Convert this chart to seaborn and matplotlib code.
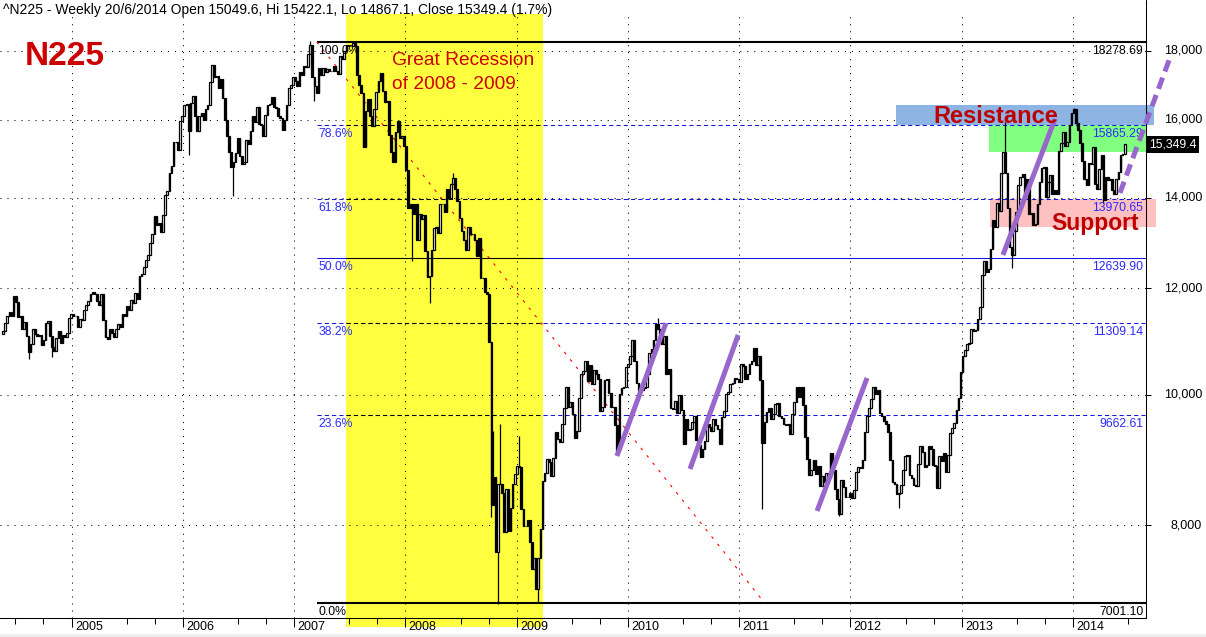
import numpy as np
import pandas as pd
import matplotlib
matplotlib.use("Agg")
import matplotlib.pyplot as plt
import matplotlib.dates as mdates
import matplotlib.ticker as mticker
from matplotlib.patches import Rectangle
from matplotlib.lines import Line2D
import seaborn as sns

# ---------------- data (weekly closes) ----------------
last_date = "2014-06-20"
first_open = 11100

close_2004 = [11150, 11300, 11450, 11530, 11450, 11850, 11720, 11420, 11440, 11200, 11320,
              11060, 10760, 10900, 11200, 11100, 11060, 11080, 10880, 10990, 11300, 11350,
              11050, 10860, 10770, 11020, 11150, 10920, 11080, 11030, 11120, 11400, 11490]
close_2005 = [11433, 11438, 11238, 11387, 11360, 11553, 11660, 11740, 11873, 11923, 11879, 11739,
              11668, 11874, 11370, 11045, 11008, 11192, 11120, 11037, 11200, 11280, 11230, 11480,
              11440, 11630, 11570, 11760, 11690, 11900, 11780, 12260, 12290, 12450, 12600, 12690,
              12960, 13160, 13570, 13360, 13420, 13200, 13600, 14070, 14160, 14620, 14780, 15400,
              15400, 15200, 15960, 16111]
close_2006 = [16400, 16450, 15700, 16460, 16680, 16100, 15710, 16100, 16200, 16000, 16300, 16400,
              17060, 17560, 17230, 17250, 16900, 17150, 16600, 16000, 15560, 15150, 14750, 14880,
              15130, 15500, 15050, 14850, 14900, 15450, 15350, 15700, 16100, 15940, 16350, 15900,
              15850, 15560, 16130, 16400, 16450, 16650, 16350, 16330, 16100, 16050, 15730, 16000,
              16420, 16900, 16990, 17225]
close_2007 = [17090, 16940, 17370, 17290, 17550, 17500, 17900, 18190, 17220, 16940, 16740, 17480,
              17290, 17490, 17360, 17450, 17400, 17390, 17550, 17400, 17320, 17850, 17770, 18000,
              18190, 18140, 18140, 18240, 18160, 17280, 16980, 16760, 15270, 16250, 16570, 16120,
              15830, 16310, 16790, 17100, 17330, 16810, 16500, 16520, 15580, 15150, 14890, 15680,
              15960, 15510, 15570, 15300]
close_2008 = [14690, 13760, 13860, 13630, 13860, 13020, 13620, 13500, 13600, 12780, 12240, 12260,
              12820, 13290, 13320, 13180, 13860, 13850, 13660, 14220, 14010, 14340, 14490, 14210,
              13940, 13540, 13240, 13040, 12800, 13330, 13170, 13170, 13020, 12670, 13070, 12210,
              12210, 11920, 11890, 10940, 8280, 8690, 7650, 8580, 8580, 8460, 7910, 8510,
              7920, 8240, 8590, 8740]
close_2009 = [8860, 8840, 8230, 7990, 7990, 8080, 7780, 7420, 7570, 7170, 7570, 7950,
              8630, 8750, 8960, 8910, 8710, 8980, 9380, 9270, 9220, 9520, 9770, 10140,
              9790, 9880, 9680, 9290, 9400, 9940, 10360, 10410, 10600, 10240, 10530, 10190,
              10440, 10370, 10270, 9730, 9800, 10260, 10280, 10030, 9790, 9800, 9500, 9080,
              10020, 10110, 10140, 10490]
close_2010 = [10550, 10680, 10980, 10590, 10200, 10060, 10090, 10120, 10130, 10370, 10750, 10820,
              10990, 11290, 11200, 11100, 10910, 11060, 10360, 10460, 9780, 9760, 9900, 9700,
              10000, 9740, 9200, 9590, 9410, 9430, 9540, 9640, 9250, 9180, 8990, 9110,
              9240, 9510, 9470, 9400, 9590, 9500, 9430, 9200, 9630, 9720, 10020, 10040,
              10180, 10210, 10300, 10280, 10230]
close_2011 = [10540, 10500, 10270, 10360, 10540, 10600, 10840, 10530, 10690, 10250, 9210, 9540,
              9710, 9770, 9590, 9680, 9850, 9860, 9650, 9610, 9520, 9490, 9510, 9350,
              9680, 9870, 10140, 9970, 10130, 9830, 9300, 8960, 8720, 8800, 8950, 8740,
              8860, 8560, 8700, 8610, 8750, 8680, 9050, 8800, 8510, 8370, 8160, 8640,
              8540, 8400, 8400, 8450]
close_2012 = [8390, 8500, 8770, 8840, 8830, 8950, 9380, 9650, 9780, 9930, 10130, 10010,
              10080, 9690, 9640, 9560, 9520, 9380, 8950, 8610, 8580, 8440, 8460, 8570,
              8800, 9010, 9020, 8720, 8670, 8570, 8560, 8890, 9160, 9070, 8840, 8870,
              9160, 9110, 8870, 8860, 8530, 9000, 8930, 9050, 8760, 9020, 9370, 9450,
              9530, 9740, 9940, 10400]
close_2013 = [10690, 10800, 10910, 10930, 11190, 11150, 11170, 11390, 11610, 12280, 12560, 12340,
              12400, 12830, 13490, 13320, 13880, 13690, 14610, 15140, 14610, 13770, 12880, 12690,
              13230, 13680, 14310, 14510, 14590, 14130, 14470, 13620, 13650, 13360, 13390, 13860,
              14400, 14740, 14760, 14020, 14400, 14560, 14090, 14200, 14090, 15170, 15380, 15660,
              15300, 15400, 15870, 16180]
close_2014 = [16290, 15910, 15730, 15390, 14910, 14460, 14310, 14870, 14840, 15270, 14330, 14220,
              14700, 15060, 13960, 14520, 14430, 14460, 14200, 14100, 14460, 14630, 15080, 15100,
              15349.4]

# notable intraweek extremes (long wicks visible in the chart)
low_spikes = {"2004-08-13": 10640, "2004-10-29": 10660, "2006-01-20": 15060, "2006-06-16": 14050,
              "2007-03-09": 16530, "2008-01-25": 12570, "2008-03-21": 11690, "2008-10-10": 8115,
              "2008-10-31": 6995, "2009-03-13": 7021, "2011-03-18": 8227, "2011-11-25": 8135,
              "2012-06-08": 8238, "2013-06-14": 12415, "2014-04-11": 13885}
high_spikes = {"2006-04-07": 17563, "2007-02-23": 18300, "2007-07-13": 18295, "2008-06-06": 14600,
               "2008-10-17": 9400, "2008-11-07": 9520, "2009-01-09": 9325, "2010-04-09": 11400,
               "2013-05-24": 15942, "2014-01-03": 16320}

fib_levels = [18278.69, 15865.29, 13970.65, 12639.90, 11309.14, 9662.61, 7001.10]
fib_pct = ["100.0%", "78.6%", "61.8%", "50.0%", "38.2%", "23.6%", "0.0%"]
fib_value_labels = ["18278.69", "15865.29", "13970.65", "12639.90", "11309.14", "9662.61", "7001.10"]
fib_kind = ["thick", "dashed", "dashed", "solid", "dashed", "dashed", "thick"]
fib_start = "2007-03-17"

y_ticks = [8000, 10000, 12000, 14000, 16000, 18000]
year_labels = [str(y) for y in range(2005, 2015)]

recession_span = ("2007-06-22", "2009-03-27")
resistance_box = ("2012-05-30", "2014-09-24", 15865.29, 16413)
green_box = ("2013-03-31", None, 15145, 15865.29)
support_box = ("2013-04-03", "2014-09-30", 13323, 13970.65)
fan_line = (("2007-03-17", 18278.69), ("2011-03-27", 7001.10))
purple_segments = [
    (("2009-11-26", 9007), ("2010-05-06", 11305)),
    (("2010-07-24", 8809), ("2010-12-29", 11077)),
    (("2011-09-14", 8199), ("2012-02-25", 10292)),
    (("2013-05-16", 12701), ("2013-11-03", 16025)),
]
purple_dashed = (("2014-06-04", 14121), ("2014-11-15", 17786))

header = "^N225 - Weekly 20/6/2014 Open 15049.6, Hi 15422.1, Lo 14867.1, Close 15349.4 (1.7%)"
last_price = 15349.4
last_price_label = "15,349.4"

# ---------------- styling ----------------
sns.set_style("white")
plt.rcParams["font.family"] = ["Liberation Sans", "DejaVu Sans"]

W, H = 1206, 637
fig = plt.figure(figsize=(W / 100, H / 100), dpi=100)
ax_right_px, ax_top_px, ax_bot_px = 1146, 14, 617.5
ax_h_px = ax_bot_px - ax_top_px
ax = fig.add_axes([0, 1 - ax_bot_px / H, ax_right_px / W, ax_h_px / H])
ax.set_facecolor("white")
ax.set_yscale("log")


def dn(s):
    return mdates.date2num(pd.Timestamp(s))


x_left = dn(pd.Timestamp("2005-01-01") - pd.Timedelta(days=234.7))
x_right = dn(pd.Timestamp("2005-01-01") + pd.Timedelta(days=3526.6))
y_lo, y_hi = 6834, 19175

YELLOW = "#FFFF40"
BLUE = "#1414E6"
BLUE_TXT = "#2B2BFF"
PURPLE = "#9966CC"
DARKRED = "#C00000"

# recession band (continues a little below the axis line, as in the source)
ys0, ys1 = dn(recession_span[0]), dn(recession_span[1])
below = 9.5 / ax_h_px
ax.add_patch(Rectangle((ys0, -below), ys1 - ys0, 1 + below, transform=ax.get_xaxis_transform(),
                       facecolor=YELLOW, edgecolor="none", zorder=0.2, clip_on=False))

# boxes
x0, x1, b0, b1 = resistance_box
ax.add_patch(Rectangle((dn(x0), b0), dn(x1) - dn(x0), b1 - b0, facecolor="#8DB4E2",
                       edgecolor="none", zorder=1, clip_on=False))
x0, _, b0, b1 = green_box
ax.add_patch(Rectangle((dn(x0), b0), x_right - dn(x0), b1 - b0, facecolor="#80FF80",
                       edgecolor="none", zorder=1, clip_on=False))
x0, x1, b0, b1 = support_box
ax.add_patch(Rectangle((dn(x0), b0), dn(x1) - dn(x0), b1 - b0, facecolor="#FFC0C0",
                       edgecolor="none", zorder=1, clip_on=False))

# fibonacci lines
fs = dn(fib_start)
dash = (0, (4, 3))
for lvl, pct, vlab, kind in zip(fib_levels, fib_pct, fib_value_labels, fib_kind):
    if kind == "thick":
        ax.hlines(lvl, fs, x_right, colors="black", lw=1.5, zorder=3)
        tcol = "black"
    else:
        ls = dash if kind == "dashed" else "solid"
        ax.hlines(lvl, fs, x_right, colors=BLUE, lw=0.75, linestyles=[ls], zorder=3)
        ax.hlines(lvl, ys0, ys1, colors="black", lw=0.75, linestyles=[ls], zorder=3.1)
        tcol = BLUE_TXT
    ax.annotate(pct, xy=(fs, lvl), xytext=(1, -2), textcoords="offset points",
                ha="left", va="top", fontsize=8.8, color=tcol, zorder=6)
    ax.annotate(vlab, xy=(1.0, lvl), xycoords=("axes fraction", "data"), xytext=(-2, -2),
                textcoords="offset points", ha="right", va="top", fontsize=8.8,
                color=tcol, zorder=6)

# red fan line
(f0d, f0v), (f1d, f1v) = fan_line
ax.plot([dn(f0d), dn(f1d)], [f0v, f1v], color="red", lw=0.8, linestyle=(0, (2.5, 6)), zorder=3.5)

# candles
closes = np.array(close_2004 + close_2005 + close_2006 + close_2007 + close_2008 + close_2009 +
                  close_2010 + close_2011 + close_2012 + close_2013 + close_2014, dtype=float)
dates = pd.date_range(end=last_date, periods=len(closes), freq="W-FRI")
opens = np.r_[first_open, closes[:-1]]
xd = mdates.date2num(dates)
up = closes >= opens
lo_b = np.minimum(opens, closes)
hi_b = np.maximum(opens, closes)
dstr = dates.strftime("%Y-%m-%d")
wick_lo = np.array([low_spikes.get(d, b) for d, b in zip(dstr, lo_b)])
wick_hi = np.array([high_spikes.get(d, t) for d, t in zip(dstr, hi_b)])
ax.vlines(xd, wick_lo, wick_hi, colors="black", lw=0.9, zorder=4)
ax.bar(xd[up], (hi_b - lo_b)[up], bottom=lo_b[up], width=5.2, facecolor="white",
       edgecolor="black", linewidth=0.9, zorder=5)
ax.bar(xd[~up], (hi_b - lo_b)[~up], bottom=lo_b[~up], width=5.2, facecolor="black",
       edgecolor="black", linewidth=0.9, zorder=5)

# purple trend strokes (seaborn)
for (d0, v0), (d1, v1) in purple_segments:
    seg = pd.DataFrame({"x": [dn(d0), dn(d1)], "y": [v0, v1]})
    sns.lineplot(data=seg, x="x", y="y", ax=ax, color=PURPLE, linewidth=3.6,
                 solid_capstyle="butt", errorbar=None, sort=False, zorder=7)
(d0, v0), (d1, v1) = purple_dashed
seg = pd.DataFrame({"x": [dn(d0), dn(d1)], "y": [v0, v1]})
sns.lineplot(data=seg, x="x", y="y", ax=ax, color=PURPLE, linewidth=3.6,
             errorbar=None, sort=False, zorder=7, clip_on=False)
ax.get_lines()[-1].set_dashes([2.4, 1.3])

# axes, ticks, grid
ax.set_xlim(x_left, x_right)
ax.set_ylim(y_lo, y_hi)
ax.set_xlabel("")
ax.set_ylabel("")
ax.yaxis.set_major_locator(mticker.FixedLocator(y_ticks))
ax.yaxis.set_minor_locator(mticker.NullLocator())
ax.yaxis.set_major_formatter(mticker.NullFormatter())
ax.xaxis.set_major_locator(mdates.YearLocator())
ax.xaxis.set_minor_locator(mdates.MonthLocator(bymonth=[7, 10]))
ax.xaxis.set_major_formatter(mticker.NullFormatter())
ax.xaxis.set_minor_formatter(mticker.NullFormatter())
ax.set_axisbelow(True)
ax.grid(True, which="major", axis="both", color="black", linestyle=(0, (1, 5.7)), linewidth=0.75)
ax.tick_params(axis="y", which="major", left=False, right=True, labelleft=False, labelright=False,
               direction="out", length=3.6, width=0.75, color="black")
ax.tick_params(axis="x", which="major", bottom=True, top=False, direction="out", length=6.5,
               width=0.75, color="black", labelbottom=False)
ax.tick_params(axis="x", which="minor", bottom=True, top=False, direction="out", length=4.3,
               width=0.75, color="black")
for s in ("left", "top"):
    ax.spines[s].set_visible(False)
for s in ("right", "bottom"):
    ax.spines[s].set_visible(True)
    ax.spines[s].set_color("black")
    ax.spines[s].set_linewidth(0.75)
    ax.spines[s].set_zorder(6)

for v in y_ticks:
    ax.text(1202 / ax_right_px, v, f"{v:,}", transform=ax.get_yaxis_transform(), ha="right",
            va="center", fontsize=9, color="black", clip_on=False)
for yr in year_labels:
    ax.annotate(yr, xy=(dn(f"{yr}-01-01"), 0), xycoords=("data", "axes fraction"),
                xytext=(2.5, -2.2), textcoords="offset points", ha="left", va="top",
                fontsize=9, color="black", annotation_clip=False, zorder=6)

ax.annotate(last_price_label, xy=(1.0, last_price), xycoords=("axes fraction", "data"),
            xytext=(2.5, 0), textcoords="offset points", ha="left", va="center", fontsize=8.8,
            color="white", bbox=dict(boxstyle="square,pad=0.2", fc="black", ec="none"),
            annotation_clip=False, zorder=8)

fig.add_artist(Line2D([ax_right_px / W] * 2, [1 - ax_top_px / H, 1], color="black", lw=0.75))
fig.add_artist(Rectangle((0, 0), 1, 3.5 / H, transform=fig.transFigure, facecolor="#EEEEEE",
                         edgecolor="none"))

# texts
fig.text(3 / W, 1 - 14 / H, header, fontsize=10, ha="left", va="baseline", color="black")
fig.text(25 / W, 1 - 65 / H, "N225", fontsize=24, fontweight="bold", color="#CC0000",
         ha="left", va="baseline")
fig.text(392 / W, 1 - 65 / H, "Great Recession", fontsize=13.8, color="#CC0000",
         ha="left", va="baseline")
fig.text(392 / W, 1 - 89 / H, "of 2008 - 2009", fontsize=13.8, color="#CC0000",
         ha="left", va="baseline")
fig.text(933 / W, 1 - 123 / H, "Resistance", fontsize=17, fontweight="bold", color=DARKRED,
         ha="left", va="baseline")
fig.text(1051 / W, 1 - 230 / H, "Support", fontsize=16.5, fontweight="bold", color=DARKRED,
         ha="left", va="baseline")

fig.savefig("out.png", dpi=100, facecolor="white")
